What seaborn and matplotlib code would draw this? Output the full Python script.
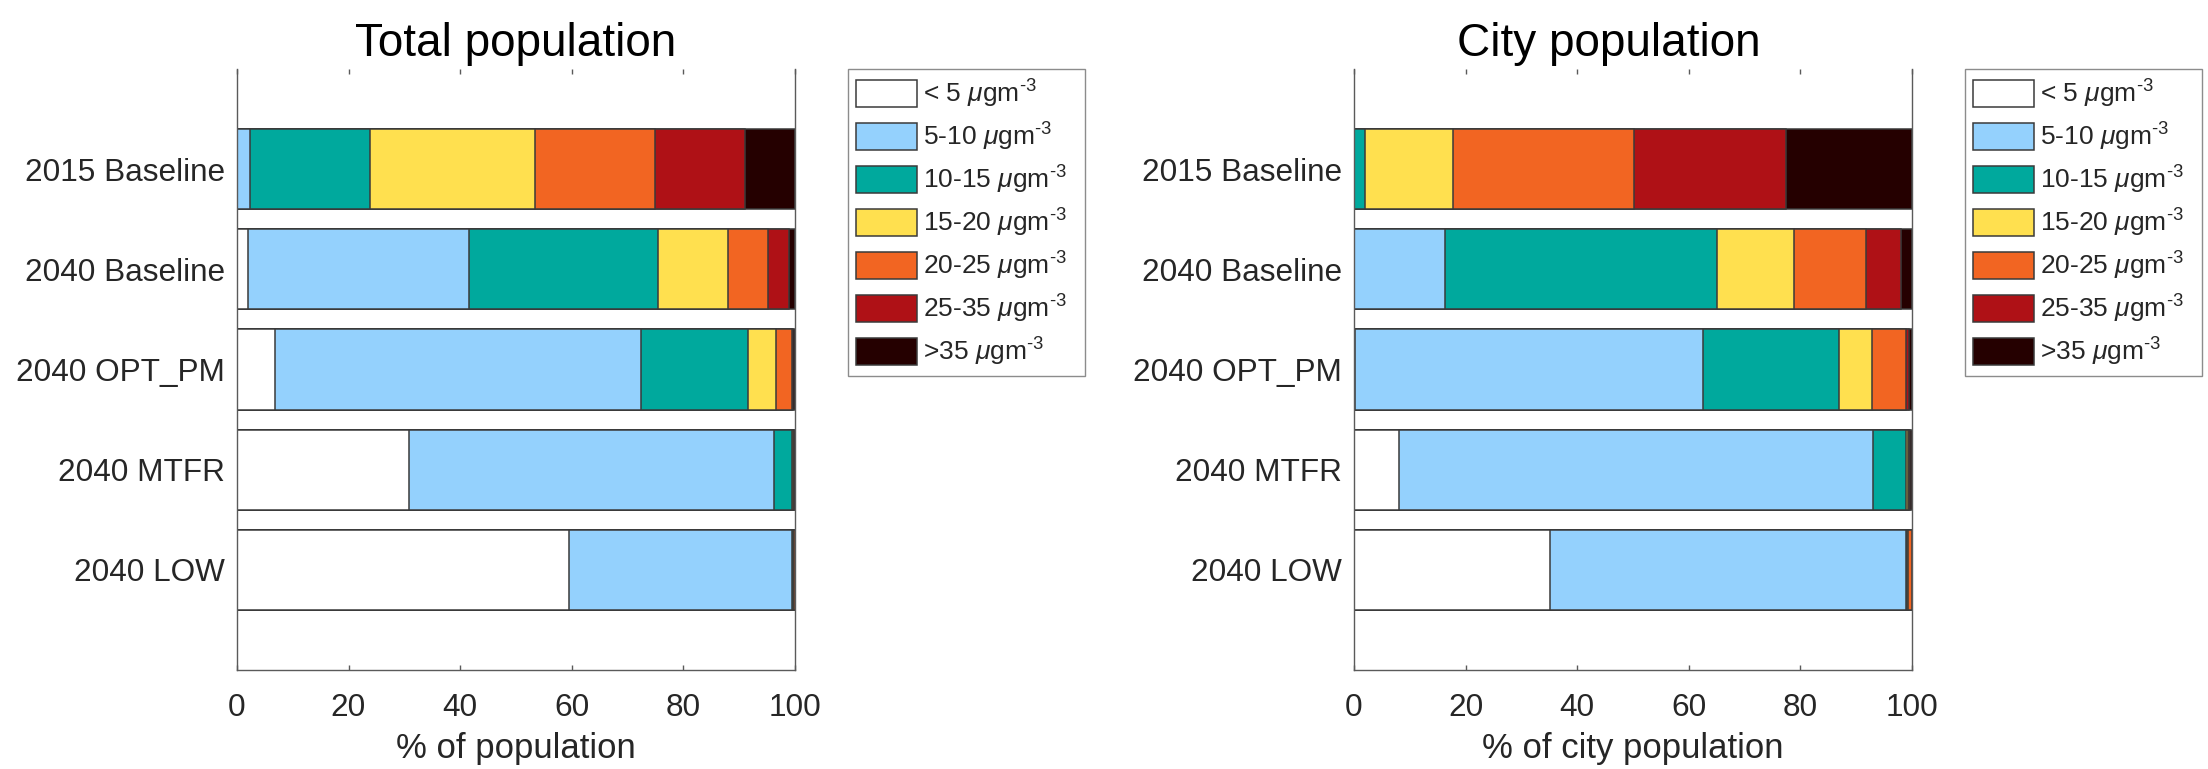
import numpy as np
import pandas as pd
import matplotlib
matplotlib.use("Agg")
import matplotlib.pyplot as plt
from matplotlib.patches import Patch
import seaborn as sns

# ---- data -----------------------------------------------------------------
scenarios = ["2015 Baseline", "2040 Baseline", "2040 OPT_PM", "2040 MTFR", "2040 LOW"]
bands = ["< 5", "5-10", "10-15", "15-20", "20-25", "25-35", ">35"]
band_colors = ["#FFFFFF", "#94D1FD", "#00A99D", "#FFE04F", "#F26522", "#AF1116", "#250000"]

# share of total population (%) in each PM2.5 band, one list per scenario
total_2015_base = [0.0, 2.4, 21.5, 29.5, 21.5, 16.2, 8.9]
total_2040_base = [1.9, 39.8, 33.9, 12.5, 7.2, 3.8, 0.9]
total_2040_opt = [6.9, 65.6, 19.1, 5.0, 2.9, 0.3, 0.2]
total_2040_mtfr = [30.9, 65.5, 3.1, 0.3, 0.1, 0.05, 0.05]
total_2040_low = [59.6, 39.9, 0.2, 0.1, 0.2, 0.0, 0.0]

# share of city population (%) in each PM2.5 band
city_2015_base = [0.0, 0.0, 1.9, 15.8, 32.4, 27.4, 22.5]
city_2040_base = [0.0, 16.3, 48.7, 13.9, 12.9, 6.2, 2.0]
city_2040_opt = [0.2, 62.4, 24.3, 5.9, 6.2, 0.4, 0.6]
city_2040_mtfr = [8.1, 84.9, 6.0, 0.2, 0.2, 0.2, 0.4]
city_2040_low = [35.1, 63.9, 0.1, 0.1, 0.8, 0.0, 0.0]

total_rows = [total_2015_base, total_2040_base, total_2040_opt, total_2040_mtfr, total_2040_low]
city_rows = [city_2015_base, city_2040_base, city_2040_opt, city_2040_mtfr, city_2040_low]


def long_table(rows):
    recs = []
    for scen, vals in zip(scenarios, rows):
        run = 0.0
        for band, v in zip(bands, vals):
            run += v
            recs.append({"scenario": scen, "band": band, "share": v, "cum": run})
    return pd.DataFrame(recs)


total_df = long_table(total_rows)
city_df = long_table(city_rows)

# ---- style ----------------------------------------------------------------
sns.set_style("white")
plt.rcParams["font.family"] = ["Liberation Sans", "DejaVu Sans"]
plt.rcParams["mathtext.fontset"] = "custom"
plt.rcParams["mathtext.rm"] = "Liberation Sans"
plt.rcParams["mathtext.it"] = "Liberation Sans:italic"
plt.rcParams["mathtext.bf"] = "Liberation Sans:bold"

W, H = 2208, 769
fig = plt.figure(figsize=(W / 100, H / 100), dpi=100)
fig.patch.set_facecolor("white")

AX_TXT = "#262626"
SPINE = "#5a5a5a"
EDGE = "#3a3a3a"


def px_box(x0, x1, y_top, y_bot):
    return [x0 / W, 1 - y_bot / H, (x1 - x0) / W, (y_bot - y_top) / H]


def draw_panel(ax, df, title, xlabel, title_x):
    # stacked bars: cumulative totals drawn from the outermost band inwards
    for band, col in reversed(list(zip(bands, band_colors))):
        sub = df[df["band"] == band]
        sns.barplot(data=sub, x="cum", y="scenario", order=scenarios, orient="h",
                    color=col, saturation=1, width=0.8, errorbar=None,
                    edgecolor=EDGE, linewidth=1.1, ax=ax)
    ax.set_xlim(0, 100)
    ax.set_ylim(5, -1)
    ax.set_xticks(np.arange(0, 101, 20))
    ax.tick_params(axis="x", direction="in", length=3.8, width=1.0, color=SPINE,
                   top=True, bottom=True, labelsize=22.7, labelcolor=AX_TXT, pad=16.5)
    ax.tick_params(axis="y", length=0, labelsize=22.7, labelcolor=AX_TXT, pad=8.6)
    for side in ["left", "right", "bottom"]:
        ax.spines[side].set_visible(True)
        ax.spines[side].set_color(SPINE)
        ax.spines[side].set_linewidth(1.0)
    ax.spines["top"].set_visible(False)
    ax.set_ylabel("")
    ax.set_xlabel(xlabel, fontsize=25, color=AX_TXT, labelpad=6.5)
    ax.set_title(title, fontsize=33, color="black", pad=9.5, x=title_x)


ax_l = fig.add_axes(px_box(237, 794.5, 69, 670))
ax_r = fig.add_axes(px_box(1354, 1912, 69, 670))

draw_panel(ax_l, total_df, "Total population", "% of population", 0.5)
draw_panel(ax_r, city_df, "City population", "% of city population", 0.457)

legend_labels = [
    r"%s $\mu$gm$^{\text{-3}}$" % b if b != ">35" else r">35 $\mu$gm$^{\text{-3}}$"
    for b in bands
]
handles = [Patch(facecolor=c, edgecolor=EDGE, linewidth=1.1) for c in band_colors]

for x0 in (848, 1965):
    leg = ax_l.legend if x0 == 848 else ax_r.legend
    lg = leg(handles=handles, labels=legend_labels, loc="upper left",
             bbox_to_anchor=(x0 / W, 1 - 375 / H, 237 / W, 306 / H),
             bbox_transform=fig.transFigure, mode="expand", borderaxespad=0,
             fontsize=19, handlelength=2.31, handleheight=1.21,
             handletextpad=0.21, labelspacing=0.41, borderpad=0.32,
             fancybox=False, framealpha=1, edgecolor="#8c8c8c")
    lg.get_frame().set_linewidth(1.0)

fig.savefig("out.png", dpi=100, facecolor="white")
